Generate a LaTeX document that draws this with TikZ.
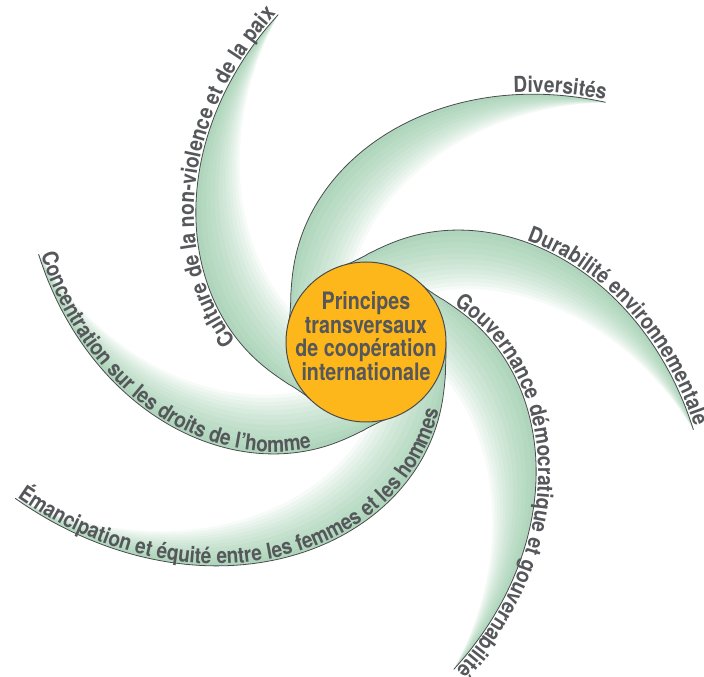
\documentclass[tikz,border=0pt]{standalone}
\usepackage{fontspec}
\newfontfamily\cf[FakeStretch=0.87]{TeX Gyre Heros}
\newfontfamily\cfc[FakeStretch=0.82]{TeX Gyre Heros}
\usetikzlibrary{decorations.text}
\definecolor{txtgray}{RGB}{85,87,90}
\definecolor{linegray}{RGB}{75,75,78}
\definecolor{orb}{RGB}{253,183,26}
\definecolor{leaf}{RGB}{84,168,112}
\newcommand\curvefont{\cf\bfseries\fontsize{22}{22}\selectfont}
\newcommand\centerfont{\cfc\bfseries\fontsize{24}{23.5}\selectfont}
% spiral arm: base angle #1, parameter domain #2
\newcommand\spir[2]{plot[domain=#2,samples=90,smooth] ({ra(\x)*cos(#1-\x)},{ra(\x)*sin(#1-\x)})}
\newcommand\tspir[2]{plot[domain=#2,samples=70] ({ra(\x)*cos(#1-\x)},{ra(\x)*sin(#1-\x)})}
% crescent along an arm: base angle #1, inner width #2
\newcommand\crescent[2]{plot[domain=0.2:120,samples=36,smooth] ({ra(\x)*cos(#1-\x)},{ra(\x)*sin(#1-\x)}) -- plot[domain=120:0.2,samples=36,smooth] ({(ra(\x)-#2*sin(1.5*\x))*cos(#1-\x)},{(ra(\x)-#2*sin(1.5*\x))*sin(#1-\x)}) -- cycle}
% longer arm (Emancipation)
\newcommand\espir[1]{plot[domain=#1,samples=110,smooth] ({re(\x)*cos(-\x)},{re(\x)*sin(-\x)})}
\newcommand\tespir[1]{plot[domain=#1,samples=90] ({re(\x)*cos(-\x)},{re(\x)*sin(-\x)})}
\newcommand\ecrescent[1]{plot[domain=0.2:156,samples=44,smooth] ({re(\x)*cos(-\x)},{re(\x)*sin(-\x)}) -- plot[domain=156:0.2,samples=44,smooth] ({(re(\x)-#1*sin(1.1538*\x))*cos(-\x)},{(re(\x)-#1*sin(1.1538*\x))*sin(-\x)}) -- cycle}
\tikzset{
  glowfill/.style={fill=leaf, fill opacity=0.05},
  arcline/.style={draw=linegray, line width=0.8pt},
  curvetext/.style={decorate, decoration={text along path, raise=2pt, text color=txtgray}}
}
\newcommand\blade[1]{%
  \foreach \k in {1,...,12} {\pgfmathsetmacro\wd{8*\k}\fill[glowfill] \crescent{#1}{\wd};}}
\begin{document}
\begin{tikzpicture}[x=1pt,y=1pt,
  declare function={ra(\x)=80+259*pow(\x/120,1.75);
                    re(\x)=80+307*pow(\x/156.7,2.05);}]
\useasboundingbox (-366,-335) rectangle (338,342);
% shading of the six blades
\blade{225}
\blade{165}
\blade{105}
\blade{45}
\blade{285}
\foreach \k in {1,...,12} {\pgfmathsetmacro\wd{8*\k}\fill[glowfill] \ecrescent{\wd};}
% arcs
\draw[arcline] \spir{225}{0.1:120};
\draw[arcline] \spir{165}{0.1:120};
\draw[arcline] \spir{105}{0.1:120};
\draw[arcline] \spir{45}{0.1:120};
\draw[arcline] \spir{285}{0.1:120};
\draw[arcline] \espir{0.1:156};
% centre
\node[circle, draw=linegray, line width=1pt, fill=orb, minimum size=160pt, inner sep=0pt] (core) at (0,0) {};
\node[text=txtgray, align=center, font=\centerfont, inner sep=0pt] (label) at (0,6) {Principes\\transversaux\\de coopération\\internationale};
% texts along the arcs
\path[curvetext, decoration={text={|\curvefont|Culture de la non-violence et de la paix}, text align={right, right indent=1pt}}] \tspir{225}{20:120};
\path[curvetext, decoration={text={|\curvefont|Diversités}, text align={right, right indent=1pt}}] \tspir{165}{20:120};
\path[curvetext, decoration={text={|\curvefont|Durabilité environnementale}, text align={right, right indent=3pt}}] \tspir{105}{20:120};
\path[curvetext, decoration={text={|\curvefont|Gouvernance démocratique et gouvernabilité}, text align={right, right indent=1pt}}] \tspir{45}{8:120};
\path[curvetext, decoration={text={|\curvefont|Concentration sur les droits de l’homme}, text align={left, left indent=1pt}}] \tspir{285}{120:12};
\path[curvetext, decoration={text={|\curvefont|Émancipation et équité entre les femmes et les hommes}, text align={left, left indent=1pt}}] \tespir{156:15};
\end{tikzpicture}
\end{document}
